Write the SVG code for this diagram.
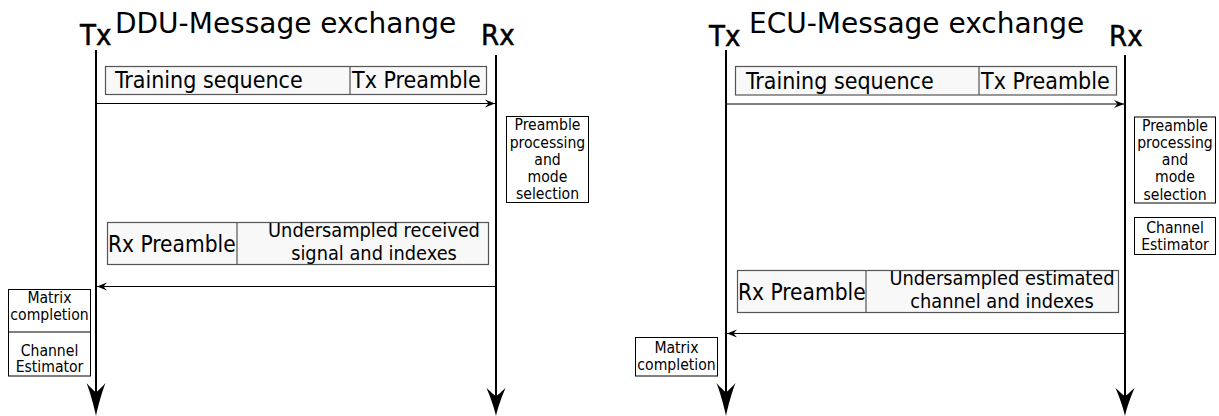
<svg xmlns="http://www.w3.org/2000/svg" width="1219" height="416" viewBox="0 0 1219 416">
  <style>
    text { font-family: "DejaVu Sans Condensed", "DejaVu Sans", "Liberation Sans", sans-serif; font-stretch: condensed; fill: #000; }
    .title { font-family: "DejaVu Sans", "Liberation Sans", sans-serif; font-stretch: normal; font-size: 28px; }
    .end { font-size: 29px; stroke: #000; stroke-width: 0.5px; }
    .msg { font-size: 23px; }
    .rxp { font-size: 22.5px; }
    .msg2 { font-size: 19.8px; text-anchor: middle; }
    .small { font-size: 15.6px; text-anchor: middle; }
    .frame { fill: #f8f8f8; stroke: #555; stroke-width: 1.2; }
    .cell { stroke: #555; stroke-width: 1.2; }
    .box { fill: #fff; stroke: #000; stroke-width: 1; }
    .life { stroke: #000; stroke-width: 2; fill: none; }
    .arrow { stroke: #000; stroke-width: 1; fill: none; marker-end: url(#tip); }
  </style>
  <defs>
    <marker id="tip" viewBox="-10 -5 11 10" refX="0" refY="0" markerWidth="11" markerHeight="10" markerUnits="userSpaceOnUse" orient="auto">
      <path d="M0,0 L-10,-4 L-6.5,0 L-10,4 Z" fill="#000"/>
    </marker>
    <path id="headLong" d="M0,0 C-2,-10 -6,-24 -9.5,-33 C-5,-28 -2,-25 0,-24 C2,-25 5,-28 9.5,-33 C6,-24 2,-10 0,0 Z" fill="#000"/>
    <path id="headShort" d="M0,0 C-2,-9 -6,-20 -9.5,-28 C-5,-24 -2,-21 0,-20 C2,-21 5,-24 9.5,-28 C6,-20 2,-9 0,0 Z" fill="#000"/>
  </defs>

  <!-- DDU exchange -->
  <g id="ddu-title">
    <text class="title" x="115" y="33">DDU-Message exchange</text>
  </g>
  <g id="ddu-tx">
    <text class="end" x="80" y="45">Tx</text>
    <line class="life" x1="96" y1="50" x2="96" y2="400"/>
    <use href="#headLong" x="96" y="416"/>
  </g>
  <g id="ddu-rx">
    <text class="end" x="481" y="45">Rx</text>
    <line class="life" x1="496" y1="55" x2="496" y2="400"/>
    <use href="#headShort" x="496" y="416"/>
  </g>
  <g id="ddu-training">
    <rect class="frame" x="105.5" y="66.5" width="381" height="28"/>
    <line class="cell" x1="350" y1="66.5" x2="350" y2="94.5"/>
    <text class="msg" x="115" y="88">Training sequence</text>
    <text class="msg" x="352" y="88">Tx Preamble</text>
  </g>
  <g id="ddu-preamble-proc">
    <rect class="box" x="506.5" y="116.5" width="82" height="86"/>
    <text class="small" x="547.5" y="130">Preamble</text>
    <text class="small" x="547.5" y="147.5">processing</text>
    <text class="small" x="547.5" y="164.5">and</text>
    <text class="small" x="547.5" y="181.5">mode</text>
    <text class="small" x="547.5" y="199">selection</text>
  </g>
  <g id="ddu-feedback">
    <rect class="frame" x="107.5" y="222.5" width="381" height="42"/>
    <line class="cell" x1="237" y1="222.5" x2="237" y2="264.5"/>
    <text class="rxp" x="108" y="252">Rx Preamble</text>
    <text class="msg2" x="374" y="237">Undersampled received</text>
    <text class="msg2" x="374" y="260">signal and indexes</text>
  </g>
  <g id="ddu-tx-proc">
    <rect class="box" x="8.5" y="289.5" width="82" height="86.5"/>
    <line stroke="#000" stroke-width="1" x1="8.5" y1="332" x2="90.5" y2="332"/>
    <text class="small" x="49.5" y="302.5">Matrix</text>
    <text class="small" x="49.5" y="319.5">completion</text>
    <text class="small" x="49.5" y="355.5">Channel</text>
    <text class="small" x="49.5" y="372">Estimator</text>
  </g>

  <!-- ECU exchange -->
  <g id="ecu-title">
    <text class="title" x="749" y="33">ECU-Message exchange</text>
  </g>
  <g id="ecu-tx">
    <text class="end" x="709" y="46">Tx</text>
    <line class="life" x1="726" y1="50" x2="726" y2="400"/>
    <use href="#headLong" x="726" y="416"/>
  </g>
  <g id="ecu-rx">
    <text class="end" x="1109" y="46">Rx</text>
    <line class="life" x1="1125" y1="55" x2="1125" y2="400"/>
    <use href="#headShort" x="1125" y="416"/>
  </g>
  <g id="ecu-training">
    <rect class="frame" x="735.5" y="66.5" width="381" height="28.5"/>
    <line class="cell" x1="979" y1="66.5" x2="979" y2="95"/>
    <text class="msg" x="746" y="88.5">Training sequence</text>
    <text class="msg" x="981" y="88.5">Tx Preamble</text>
  </g>
  <g id="ecu-preamble-proc">
    <rect class="box" x="1134.5" y="117" width="81" height="86"/>
    <text class="small" x="1175" y="130.5">Preamble</text>
    <text class="small" x="1175" y="148">processing</text>
    <text class="small" x="1175" y="165">and</text>
    <text class="small" x="1175" y="182">mode</text>
    <text class="small" x="1175" y="199.5">selection</text>
  </g>
  <g id="ecu-estimator">
    <rect class="box" x="1134.5" y="217.5" width="81" height="37"/>
    <text class="small" x="1175" y="232.5">Channel</text>
    <text class="small" x="1175" y="249.5">Estimator</text>
  </g>
  <g id="ecu-feedback">
    <rect class="frame" x="737.5" y="270.5" width="381" height="42"/>
    <line class="cell" x1="866" y1="270.5" x2="866" y2="312.5"/>
    <text class="rxp" x="738" y="300">Rx Preamble</text>
    <text class="msg2" x="1002" y="285">Undersampled estimated</text>
    <text class="msg2" x="1002" y="308">channel and indexes</text>
  </g>
  <g id="ecu-tx-proc">
    <rect class="box" x="635.5" y="337.5" width="82" height="38.5"/>
    <text class="small" x="676.5" y="352.5">Matrix</text>
    <text class="small" x="676.5" y="369.5">completion</text>
  </g>

  <!-- message connectors -->
  <g id="connectors">
    <line class="arrow" x1="96" y1="103.5" x2="495" y2="103.5"/>
    <line class="arrow" x1="496" y1="286.5" x2="97" y2="286.5"/>
    <line class="arrow" x1="726" y1="104" x2="1124" y2="104"/>
    <line class="arrow" x1="1125" y1="333.5" x2="727" y2="333.5"/>
  </g>
</svg>
